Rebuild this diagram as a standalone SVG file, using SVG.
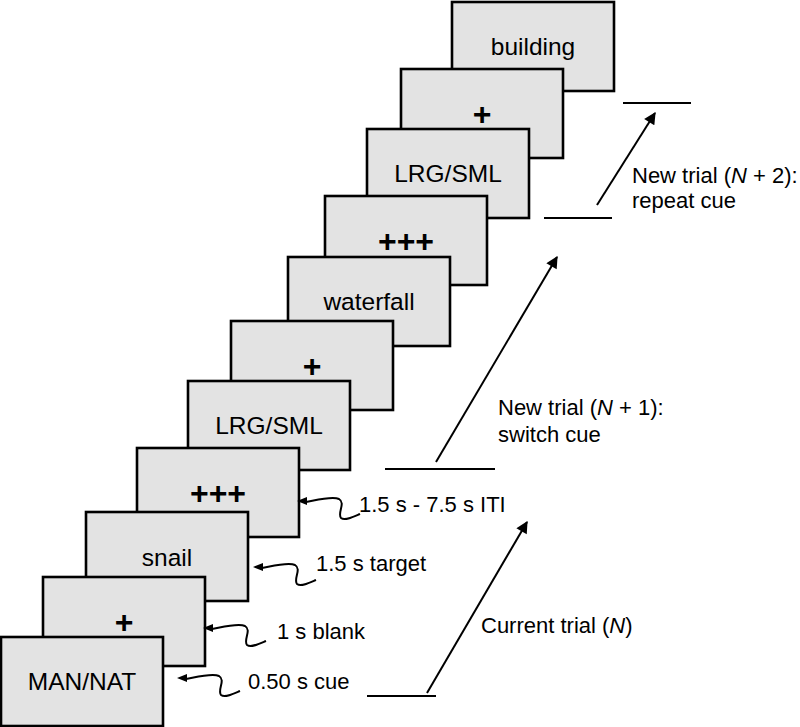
<svg xmlns="http://www.w3.org/2000/svg" xmlns:xlink="http://www.w3.org/1999/xlink" width="800" height="727" viewBox="0 0 800 727">
<style>
.box{fill:#e3e3e3;stroke:#000;stroke-width:2.6}
.bt{font-family:"Liberation Sans",Arial,sans-serif;font-size:24.5px;fill:#000;text-anchor:middle}
.pl{font-family:"Liberation Sans",Arial,sans-serif;font-size:32px;font-weight:bold;fill:#000;text-anchor:middle}
.lb{font-family:"Liberation Sans",Arial,sans-serif;font-size:22px;fill:#000}
.ln{stroke:#000;stroke-width:2;fill:none}
.ar{stroke:#000;stroke-width:2;fill:none;marker-end:url(#ah)}
</style>
<defs>
<marker id="ah" viewBox="0 0 10 10" refX="9" refY="5" markerWidth="7" markerHeight="6" markerUnits="strokeWidth" orient="auto">
<path d="M0,0 L10,5 L0,10 z" fill="#000"/>
</marker>
<g id="sq">
<path d="M0,0 L10,-4 L10,4 z" fill="#000"/>
<path d="M9,1 C20,-1 35,-5 42,-2 C49,2 40,12 44,17 C48,20 56,16 63,13" fill="none" stroke="#000" stroke-width="2"/>
</g>
</defs>
<g id="n11"><rect class="box" x="452" y="2" width="162" height="89"/><text class="bt" x="533" y="55">building</text></g>
<g id="n10"><rect class="box" x="401" y="69" width="162" height="89"/><text class="pl" x="482" y="125">+</text></g>
<g id="n9"><rect class="box" x="367" y="129" width="162" height="89"/><text class="bt" x="448" y="182">LRG/SML</text></g>
<g id="n8"><rect class="box" x="325" y="196" width="162" height="89"/><text class="pl" x="406" y="252">+++</text></g>
<g id="n7"><rect class="box" x="288" y="257" width="162" height="89"/><text class="bt" x="369" y="310">waterfall</text></g>
<g id="n6"><rect class="box" x="231" y="321" width="162" height="89"/><text class="pl" x="312" y="377">+</text></g>
<g id="n5"><rect class="box" x="188" y="381" width="162" height="89"/><text class="bt" x="269" y="434">LRG/SML</text></g>
<g id="n4"><rect class="box" x="137" y="448" width="162" height="89"/><text class="pl" x="218" y="504">+++</text></g>
<g id="n3"><rect class="box" x="86" y="512" width="162" height="89"/><text class="bt" x="167" y="566">snail</text></g>
<g id="n2"><rect class="box" x="43" y="577" width="162" height="89"/><text class="pl" x="124" y="633">+</text></g>
<g id="n1"><rect class="box" x="1" y="637" width="162" height="89"/><text class="bt" x="82" y="690">MAN/NAT</text></g>
<g id="connectors">
<use xlink:href="#sq" x="177" y="678"/>
<use xlink:href="#sq" x="203" y="628"/>
<use xlink:href="#sq" x="253" y="567"/>
<use xlink:href="#sq" x="297" y="501"/>
<line class="ln" x1="367" y1="696" x2="436" y2="696"/>
<line class="ar" x1="427" y1="693" x2="527" y2="522"/>
<line class="ln" x1="385" y1="469" x2="495" y2="469"/>
<line class="ar" x1="436" y1="462" x2="557" y2="257"/>
<line class="ln" x1="544" y1="218" x2="612" y2="218"/>
<line class="ar" x1="597" y1="205" x2="655" y2="113"/>
<line class="ln" x1="623" y1="103" x2="691" y2="103"/>
</g>
<g id="labels">
<text class="lb" x="248" y="689">0.50 s cue</text>
<text class="lb" x="277" y="639">1 s blank</text>
<text class="lb" x="316" y="571">1.5 s target</text>
<text class="lb" x="359" y="512">1.5 s - 7.5 s ITI</text>
<text class="lb" x="481" y="633">Current trial (<tspan font-style="italic">N</tspan>)</text>
<text class="lb" x="498" y="415">New trial (<tspan font-style="italic">N</tspan> + 1):</text>
<text class="lb" x="498" y="442">switch cue</text>
<text class="lb" x="632" y="183">New trial (<tspan font-style="italic">N</tspan> + 2):</text>
<text class="lb" x="632" y="208">repeat cue</text>
</g>
</svg>
